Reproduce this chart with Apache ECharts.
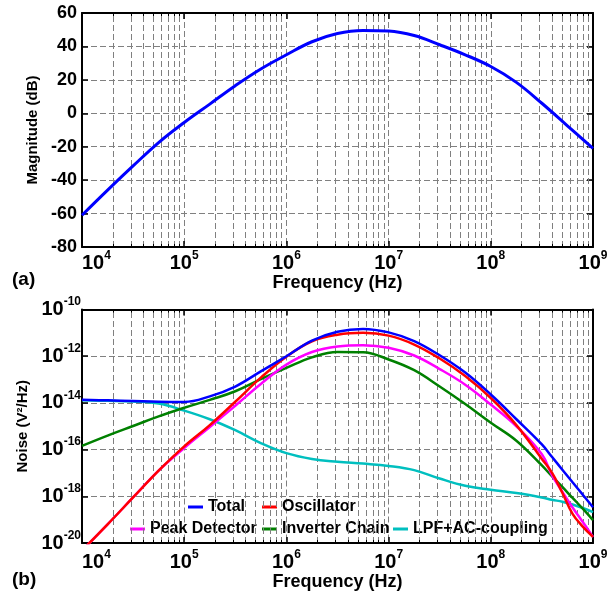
<!DOCTYPE html>
<html><head><meta charset="utf-8">
<script src="https://cdn.jsdelivr.net/npm/echarts@6/dist/echarts.min.js"></script>
<style>html,body{margin:0;padding:0;background:#fff}#c{width:613px;height:596px}</style>
</head><body><div id="c"></div>
<script>
// ---------- data ----------
// (a) magnitude response
const magFreq = [1e4, 1.78e4, 3.16e4, 5.62e4, 1e5, 1.78e5, 3.16e5, 5.62e5, 1e6, 1.78e6, 3.16e6, 5.62e6,
                 1e7, 1.78e7, 3.16e7, 5.62e7, 1e8, 1.78e8, 3.16e8, 5.62e8, 1e9];
const magDb = [-61, -46, -31.5, -17.5, -5.5, 5.5, 16.5, 26.5, 35, 42.8, 47.7, 49.5,
               49.2, 46.5, 41, 35, 28, 18.5, 6, -7.5, -21];

// (b) noise PSD, stored as exponent: log10(V^2/Hz)
const noiseFreq = [1e4, 1.78e4, 3.16e4, 5.62e4, 1e5, 1.78e5, 3.16e5, 5.62e5, 1e6, 1.78e6, 3.16e6, 5.62e6,
                   1e7, 1.78e7, 3.16e7, 5.62e7, 1e8, 1.78e8, 3.16e8, 3.98e8, 5.01e8, 6.31e8, 7.94e8, 1e9];
const totalExp = [-13.87, -13.89, -13.92, -13.95, -13.96, -13.72, -13.3, -12.65, -12.0, -11.33, -10.95, -10.83,
                  -10.98, -11.35, -11.96, -12.7, -13.64, -14.7, -15.78, -16.32, -16.86, -17.4, -17.93, -18.47];
const oscExp = [-20.32, -19.2, -18.05, -16.9, -15.86, -14.95, -13.95, -12.92, -12.02, -11.36, -11.08, -11.0,
                -11.12, -11.5, -12.1, -12.85, -13.79, -14.95, -16.4, -17.0, -17.85, -18.75, -19.3, -19.74];
const peakExp = [-20.32, -19.2, -18.05, -16.9, -15.93, -15.03, -14.12, -13.19, -12.36, -11.82, -11.58, -11.53,
                 -11.64, -11.97, -12.55, -13.22, -14.07, -15.0, -16.2, -17.1, -17.8, -18.48, -19.1, -19.74];
const invExp = [-15.84, -15.4, -14.99, -14.58, -14.21, -13.87, -13.5, -12.98, -12.5, -12.05, -11.82, -11.83,
                -12.14, -12.6, -13.3, -14.05, -14.85, -15.62, -16.68, -17.15, -17.6, -18.07, -18.53, -19.02];
const lpfExp = [-13.89, -13.91, -13.94, -14.03, -14.33, -14.7, -15.17, -15.72, -16.15, -16.4, -16.52, -16.6,
                -16.7, -16.88, -17.24, -17.55, -17.72, -17.86, -18.05, -18.15, -18.23, -18.35, -18.5, -18.68];

const seriesNames = ['Total', 'Oscillator', 'Peak Detector', 'Inverter Chain', 'LPF+AC-coupling'];
const seriesColors = ['#0000ff', '#ff0000', '#ff00ff', '#008000', '#00bfbf'];

// axis ranges / ticks
const freqMin = 1e4, freqMax = 1e9;
const magMin = -80, magMax = 60, magStep = 20;
const noiseExpMin = -20, noiseExpMax = -10, noiseExpStep = 2;
const minorMult = [2, 3, 4, 5, 6, 7, 8, 9];
const decades = [1e4, 1e5, 1e6, 1e7, 1e8];

// ---------- chart ----------
const FONT = '"Liberation Sans", Arial, sans-serif';
const minorGrid = [];
decades.forEach(d => minorMult.forEach(m => minorGrid.push(m * d)));

const rich = {
  b: {fontSize: 20, fontWeight: 'bold', fontFamily: FONT, color: '#000'},
  s: {fontSize: 12, fontWeight: 'bold', fontFamily: FONT, color: '#000', padding: [0, 0, 15, 0]}
};
const freqLabel = v => '{b|10}{s|' + Math.round(Math.log10(v)) + '}';
const expLabel = v => '{b|10}{s|' + Math.round(v) + '}';

const gridDash = {color: '#808080', width: 1, type: [6, 3]};
const axisLineStyle = {show: true, onZero: false, lineStyle: {color: '#000', width: 2}};
const tickStyle = {show: true, inside: true, length: 6, lineStyle: {color: '#000', width: 1.5}};
const nameStyle = {fontWeight: 'bold', fontFamily: FONT, color: '#000'};

function mainX(gi, labelMargin, nameGap) {
  return {
    gridIndex: gi, type: 'log', logBase: 10, min: freqMin, max: freqMax, position: 'bottom',
    axisLine: axisLineStyle, axisTick: tickStyle,
    splitLine: {show: true, lineStyle: gridDash},
    axisLabel: {show: true, margin: labelMargin, formatter: freqLabel, rich: rich, alignMinLabel: 'left',
                hideOverlap: false, showMinLabel: true, showMaxLabel: true},
    name: 'Frequency (Hz)', nameLocation: 'middle', nameGap: nameGap,
    nameTextStyle: Object.assign({fontSize: 18}, nameStyle)
  };
}
function topX(gi) {
  return {gridIndex: gi, type: 'log', logBase: 10, min: freqMin, max: freqMax, position: 'top',
          axisLine: axisLineStyle, axisTick: tickStyle, splitLine: {show: false}, axisLabel: {show: false}};
}
// minor (2..9 x decade) dashed grid lines plus short inward minor ticks at bottom and top edges
function minorSeries(xi, yi, yLo, yHi, tickLen) {
  const lines = minorGrid.map(v => ({xAxis: v}));
  const ticks = [];
  minorGrid.forEach(v => {
    ticks.push([{coord: [v, yLo], lineStyle: {type: 'solid', color: '#000', width: 1}}, {coord: [v, yLo + tickLen]}]);
    ticks.push([{coord: [v, yHi], lineStyle: {type: 'solid', color: '#000', width: 1}}, {coord: [v, yHi - tickLen]}]);
  });
  return {
    type: 'line', xAxisIndex: xi, yAxisIndex: yi, data: [], silent: true,
    markLine: {silent: true, symbol: 'none', label: {show: false}, animation: false,
               lineStyle: gridDash, emphasis: {disabled: true},
               data: lines.concat(ticks)}
  };
}

const noiseArrays = [totalExp, oscExp, peakExp, invExp, lpfExp];
const noiseSeries = noiseArrays.map((arr, i) => ({
  name: seriesNames[i], type: 'line', xAxisIndex: 2, yAxisIndex: 2,
  data: noiseFreq.map((f, k) => [f, arr[k]]),
  showSymbol: false, symbol: 'none', smooth: 0.4, clip: true,
  lineStyle: {color: seriesColors[i], width: 2.5}, itemStyle: {color: seriesColors[i]},
  z: 10 - i
}));

const legendPos = [
  {name: 'Total', left: 188, top: 498},
  {name: 'Oscillator', left: 262, top: 498},
  {name: 'Peak Detector', left: 130, top: 520},
  {name: 'Inverter Chain', left: 262, top: 520},
  {name: 'LPF+AC-coupling', left: 393, top: 520}
];

const option = {
  animation: false,
  backgroundColor: '#fff',
  grid: [
    {left: 82, top: 13, width: 511, height: 234, outerBoundsMode: 'none', containLabel: false},
    {left: 82, top: 309.5, width: 511, height: 233.5, outerBoundsMode: 'none', containLabel: false}
  ],
  xAxis: [mainX(0, 3, 23), topX(0), mainX(1, 6, 30), topX(1)],
  yAxis: [
    {gridIndex: 0, type: 'value', min: magMin, max: magMax, interval: magStep, position: 'left',
     axisLine: axisLineStyle, axisTick: tickStyle, splitLine: {show: true, lineStyle: gridDash},
     axisLabel: {margin: 5, fontSize: 18, fontWeight: 'bold', fontFamily: FONT, color: '#000'},
     name: 'Magnitude (dB)', nameLocation: 'middle', nameGap: 40,
     nameTextStyle: Object.assign({fontSize: 15}, nameStyle)},
    {gridIndex: 0, type: 'value', min: magMin, max: magMax, interval: magStep, position: 'right',
     axisLine: axisLineStyle, axisTick: tickStyle, splitLine: {show: false}, axisLabel: {show: false}},
    {gridIndex: 1, type: 'value', min: noiseExpMin, max: noiseExpMax, interval: noiseExpStep, position: 'left',
     axisLine: axisLineStyle, axisTick: tickStyle, splitLine: {show: true, lineStyle: gridDash},
     axisLabel: {margin: 1, formatter: expLabel, rich: rich, showMinLabel: true, showMaxLabel: true, hideOverlap: false},
     name: 'Noise (V²/Hz)', nameLocation: 'middle', nameGap: 45,
     nameTextStyle: Object.assign({fontSize: 15}, nameStyle)},
    {gridIndex: 1, type: 'value', min: noiseExpMin, max: noiseExpMax, interval: noiseExpStep, position: 'right',
     axisLine: axisLineStyle, axisTick: tickStyle, splitLine: {show: false}, axisLabel: {show: false}}
  ],
  legend: legendPos.map(l => ({
    data: [l.name], left: l.left, top: l.top, padding: 0, itemGap: 0,
    itemWidth: 15, itemHeight: 3, icon: 'rect', selectedMode: false,
    backgroundColor: 'transparent',
    textStyle: {fontSize: 16, fontWeight: 'bold', fontFamily: FONT, color: '#000', lineHeight: 18}
  })),
  graphic: [
    {type: 'text', left: 12, top: 270, style: {text: '(a)', font: 'bold 19px ' + FONT, fill: '#000'}},
    {type: 'text', left: 12, top: 570, style: {text: '(b)', font: 'bold 19px ' + FONT, fill: '#000'}}
  ],
  series: [
    minorSeries(0, 0, magMin, magMax, 1.8),
    minorSeries(2, 2, noiseExpMin, noiseExpMax, 0.13),
    {name: 'Magnitude', type: 'line', xAxisIndex: 0, yAxisIndex: 0,
     data: magFreq.map((f, i) => [f, magDb[i]]),
     showSymbol: false, symbol: 'none', smooth: 0.4,
     lineStyle: {color: '#0000ff', width: 3}, itemStyle: {color: '#0000ff'}, z: 10}
  ].concat(noiseSeries)
};

const chart = echarts.init(document.getElementById('c'), null, {renderer: 'canvas'});
chart.setOption(option);
</script></body></html>
